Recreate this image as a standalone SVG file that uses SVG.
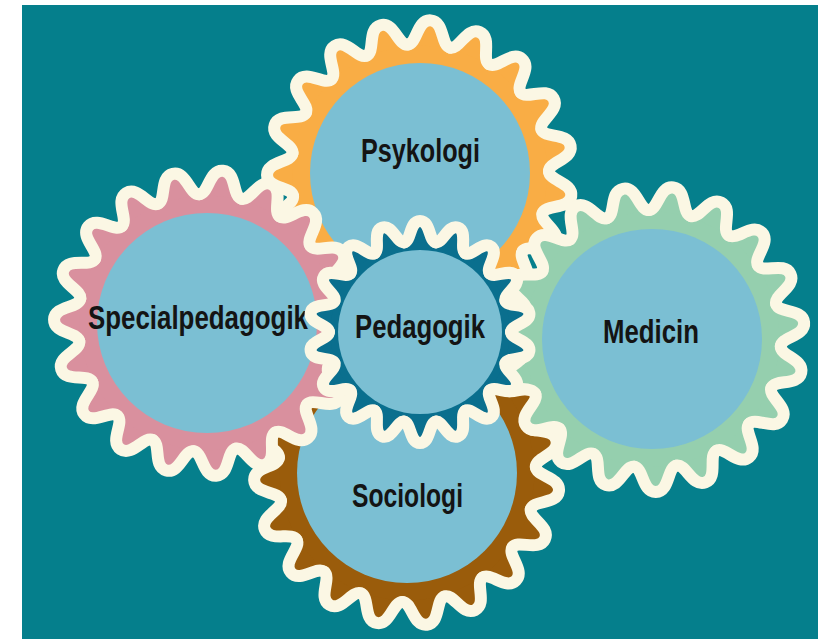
<svg xmlns="http://www.w3.org/2000/svg" xmlns:xlink="http://www.w3.org/1999/xlink" width="831" height="639" viewBox="0 0 831 639">
<style>
.wave{fill:none;stroke:#FBF7E4;stroke-width:12;stroke-linecap:round;stroke-linejoin:round}
.inner{fill:#7BBFD3}
.lbl{font-family:"Liberation Sans",Arial,sans-serif;font-size:33px;font-weight:bold;fill:#141414}
</style>
<defs>
<path id="lobeL" d="M -21.233,-127.241 C -11.766,-128.821 -13.91,-153 0,-153 C 13.91,-153 11.766,-128.821 21.233,-127.241 Z"/>
<path id="waveL" d="M -21.233,-127.241 C -11.766,-128.821 -13.91,-153 0,-153 C 13.91,-153 11.766,-128.821 21.233,-127.241"/>
<path id="lobeS" d="M -15.802,-89.618 C -8.764,-90.859 -10.66,-111 0,-111 C 10.66,-111 8.764,-90.859 15.802,-89.618 Z"/>
<path id="waveS" d="M -15.802,-89.618 C -8.764,-90.859 -10.66,-111 0,-111 C 10.66,-111 8.764,-90.859 15.802,-89.618"/>
<g id="lobesL">
<circle r="129"/>
<use href="#lobeL"/><use href="#lobeL" transform="rotate(18.947)"/><use href="#lobeL" transform="rotate(37.895)"/><use href="#lobeL" transform="rotate(56.842)"/><use href="#lobeL" transform="rotate(75.789)"/><use href="#lobeL" transform="rotate(94.737)"/><use href="#lobeL" transform="rotate(113.684)"/><use href="#lobeL" transform="rotate(132.632)"/><use href="#lobeL" transform="rotate(151.579)"/><use href="#lobeL" transform="rotate(170.526)"/><use href="#lobeL" transform="rotate(189.474)"/><use href="#lobeL" transform="rotate(208.421)"/><use href="#lobeL" transform="rotate(227.368)"/><use href="#lobeL" transform="rotate(246.316)"/><use href="#lobeL" transform="rotate(265.263)"/><use href="#lobeL" transform="rotate(284.211)"/><use href="#lobeL" transform="rotate(303.158)"/><use href="#lobeL" transform="rotate(322.105)"/><use href="#lobeL" transform="rotate(341.053)"/>
</g>
<g id="wavesL" class="wave">
<use href="#waveL"/><use href="#waveL" transform="rotate(18.947)"/><use href="#waveL" transform="rotate(37.895)"/><use href="#waveL" transform="rotate(56.842)"/><use href="#waveL" transform="rotate(75.789)"/><use href="#waveL" transform="rotate(94.737)"/><use href="#waveL" transform="rotate(113.684)"/><use href="#waveL" transform="rotate(132.632)"/><use href="#waveL" transform="rotate(151.579)"/><use href="#waveL" transform="rotate(170.526)"/><use href="#waveL" transform="rotate(189.474)"/><use href="#waveL" transform="rotate(208.421)"/><use href="#waveL" transform="rotate(227.368)"/><use href="#waveL" transform="rotate(246.316)"/><use href="#waveL" transform="rotate(265.263)"/><use href="#waveL" transform="rotate(284.211)"/><use href="#waveL" transform="rotate(303.158)"/><use href="#waveL" transform="rotate(322.105)"/><use href="#waveL" transform="rotate(341.053)"/>
</g>
<g id="lobesS">
<circle r="91"/>
<use href="#lobeS"/><use href="#lobeS" transform="rotate(20)"/><use href="#lobeS" transform="rotate(40)"/><use href="#lobeS" transform="rotate(60)"/><use href="#lobeS" transform="rotate(80)"/><use href="#lobeS" transform="rotate(100)"/><use href="#lobeS" transform="rotate(120)"/><use href="#lobeS" transform="rotate(140)"/><use href="#lobeS" transform="rotate(160)"/><use href="#lobeS" transform="rotate(180)"/><use href="#lobeS" transform="rotate(200)"/><use href="#lobeS" transform="rotate(220)"/><use href="#lobeS" transform="rotate(240)"/><use href="#lobeS" transform="rotate(260)"/><use href="#lobeS" transform="rotate(280)"/><use href="#lobeS" transform="rotate(300)"/><use href="#lobeS" transform="rotate(320)"/><use href="#lobeS" transform="rotate(340)"/>
</g>
<g id="wavesS" class="wave">
<use href="#waveS"/><use href="#waveS" transform="rotate(20)"/><use href="#waveS" transform="rotate(40)"/><use href="#waveS" transform="rotate(60)"/><use href="#waveS" transform="rotate(80)"/><use href="#waveS" transform="rotate(100)"/><use href="#waveS" transform="rotate(120)"/><use href="#waveS" transform="rotate(140)"/><use href="#waveS" transform="rotate(160)"/><use href="#waveS" transform="rotate(180)"/><use href="#waveS" transform="rotate(200)"/><use href="#waveS" transform="rotate(220)"/><use href="#waveS" transform="rotate(240)"/><use href="#waveS" transform="rotate(260)"/><use href="#waveS" transform="rotate(280)"/><use href="#waveS" transform="rotate(300)"/><use href="#waveS" transform="rotate(320)"/><use href="#waveS" transform="rotate(340)"/>
</g>
</defs>
<rect width="831" height="639" fill="#FFFFFF"/>
<rect x="22" y="5" width="796" height="634" fill="#057F8C"/>
<g id="connectors"/>
<g id="psykologi">
<use href="#lobesL" transform="translate(420,173) rotate(4)" fill="#F9AD45"/>
<use href="#wavesL" transform="translate(420,173) rotate(4)"/>
<circle class="inner" cx="420" cy="173" r="110"/>
<text class="lbl" x="361" y="162" textLength="119" lengthAdjust="spacingAndGlyphs">Psykologi</text>
</g>
<g id="sociologi">
<use href="#lobesL" transform="translate(407,473) rotate(2)" fill="#9A5C0B"/>
<use href="#wavesL" transform="translate(407,473) rotate(2)"/>
<circle class="inner" cx="407" cy="473" r="110"/>
<text class="lbl" x="352" y="507" textLength="111" lengthAdjust="spacingAndGlyphs">Sociologi</text>
</g>
<g id="specialpedagogik">
<use href="#lobesL" transform="translate(207,323) rotate(6)" fill="#D9909E"/>
<use href="#wavesL" transform="translate(207,323) rotate(6)"/>
<circle class="inner" cx="207" cy="323" r="110"/>
<text class="lbl" x="88" y="329" textLength="220" lengthAdjust="spacingAndGlyphs">Specialpedagogik</text>
</g>
<g id="medicin">
<use href="#lobesL" transform="translate(652,339) rotate(8)" fill="#95CFAE"/>
<use href="#wavesL" transform="translate(652,339) rotate(8)"/>
<circle class="inner" cx="652" cy="339" r="110"/>
<text class="lbl" x="603" y="343" textLength="96" lengthAdjust="spacingAndGlyphs">Medicin</text>
</g>
<g id="pedagogik">
<use href="#lobesS" transform="translate(420,332)" fill="#0A6F8E"/>
<use href="#wavesS" transform="translate(420,332)"/>
<circle class="inner" cx="420" cy="332" r="82"/>
<text class="lbl" x="355" y="338" textLength="130" lengthAdjust="spacingAndGlyphs">Pedagogik</text>
</g>
</svg>
